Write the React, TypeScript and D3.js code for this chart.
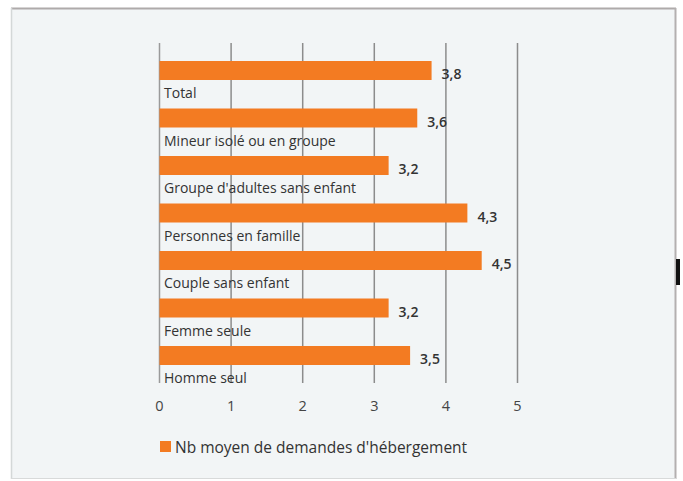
import React from "react";
import * as d3 from "d3";

const categories = [
  "Total",
  "Mineur isolé ou en groupe",
  "Groupe d'adultes sans enfant",
  "Personnes en famille",
  "Couple sans enfant",
  "Femme seule",
  "Homme seul",
];
const values = [3.8, 3.6, 3.2, 4.3, 4.5, 3.2, 3.5];
const ticks = [0, 1, 2, 3, 4, 5];
const seriesName = "Nb moyen de demandes d'hébergement";

const W = 683;
const H = 481;
const ORANGE = "#f37b22";
const FONT = "'Open Sans', 'Liberation Sans', sans-serif";

export default function App() {
  const x = d3.scaleLinear().domain([0, 5]).range([159.5, 517.5]);
  const y = d3
    .scaleBand<string>()
    .domain(categories)
    .range([61, 365])
    .paddingInner(0.6)
    .paddingOuter(0);
  const fmt = (v: number) => d3.format(".1f")(v).replace(".", ",");

  return (
    <svg
      width={W}
      height={H}
      style={{ position: "absolute", left: 0, top: 0, background: "#fff" }}
    >
      <rect x={11} y={8} width={664} height={471} fill="#f2f5f6" />
      <line x1={11} x2={676} y1={8.5} y2={8.5} stroke="#aeaaaa" strokeWidth={2} />
      <line x1={11.5} x2={11.5} y1={8} y2={479} stroke="#d4d8d8" strokeWidth={1.5} />
      <line x1={675.5} x2={675.5} y1={8} y2={479} stroke="#b4b0b0" strokeWidth={2} />
      <line x1={11} x2={676} y1={478.5} y2={478.5} stroke="#d8dada" strokeWidth={1} />
      <rect x={676} y={259} width={4} height={26} fill="#111" />

      {ticks.map((t) => (
        <g key={t}>
          <line
            x1={x(t)}
            x2={x(t)}
            y1={43}
            y2={383}
            stroke={t === 0 ? "#9a9a9a" : "#8c8c8c"}
            strokeWidth={1.5}
          />
          <text
            x={x(t)}
            y={405}
            textAnchor="middle"
            dominantBaseline="central"
            fontFamily={FONT}
            fontSize={14.5}
            fill="#444"
          >
            {t}
          </text>
        </g>
      ))}

      {categories.map((c, i) => {
        const yy = y(c)!;
        const bw = y.bandwidth();
        return (
          <g key={c}>
            <rect x={x(0)} y={yy} width={x(values[i]) - x(0)} height={bw} fill={ORANGE} />
            <text
              x={x(values[i]) + 10}
              y={yy + bw / 2 + 3}
              dominantBaseline="central"
              fontFamily={FONT}
              fontSize={14}
              fontWeight={600}
              fill="#333"
            >
              {fmt(values[i])}
            </text>
            <text
              x={164}
              y={yy + bw + 12.5}
              dominantBaseline="central"
              fontFamily={FONT}
              fontSize={14}
              fill="#333"
            >
              {c}
            </text>
          </g>
        );
      })}

      <rect x={160} y={441} width={11} height={11} fill={ORANGE} />
      <text
        x={175}
        y={446.5}
        dominantBaseline="central"
        fontFamily={FONT}
        fontSize={15.5}
        fill="#333"
      >
        {seriesName}
      </text>
    </svg>
  );
}
